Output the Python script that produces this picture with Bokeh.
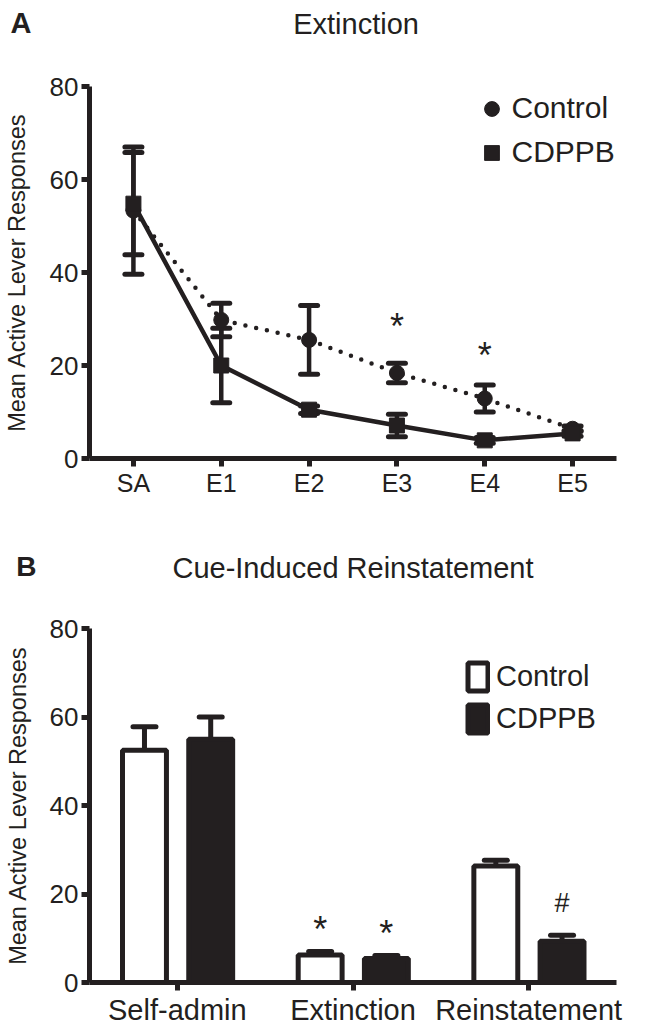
from bokeh.plotting import figure
from bokeh.models import (ColumnDataSource, Range1d, FactorRange, FixedTicker, Whisker,
                          TeeHead, Legend, LegendItem)
from bokeh.layouts import column
from bokeh.transform import dodge
from bokeh.core.properties import value
from bokeh.embed import file_html
from bokeh.resources import INLINE

INK = "#231f20"
FONT = "Liberation Sans"

# ---------------- Panel A data: Extinction ----------------
sessions = ["SA", "E1", "E2", "E3", "E4", "E5"]
control_mean = [53.3, 29.8, 25.5, 18.4, 12.9, 6.4]
control_sem = [13.7, 3.6, 7.4, 2.1, 2.9, 0.6]
cdppb_mean = [54.8, 20.0, 10.5, 7.1, 3.9, 5.4]
cdppb_sem = [11.0, 8.0, 0.8, 2.4, 0.6, 0.6]
sig_a_x = ["E3", "E4"]
sig_a_y = [30.0, 23.6]
sig_a_text = ["*", "*"]

# ---------------- Panel B data: Cue-Induced Reinstatement ----------------
phases = ["Self-admin", "Extinction", "Reinstatement"]
bar_control = [52.5, 6.2, 26.3]
bar_control_sem = [5.3, 0.8, 1.3]
bar_cdppb = [55.0, 5.4, 9.3]
bar_cdppb_sem = [5.0, 0.7, 1.4]
sig_b_phase = ["Extinction", "Extinction", "Reinstatement"]
sig_b_series = ["Control", "CDPPB", "CDPPB"]
sig_b_y = [13.1, 12.1, 17.9]
sig_b_text = ["*", "*", "#"]

y_ticks = [0, 20, 40, 60, 80]
y_label = "Mean Active Lever Responses"
title_a = "Extinction"
title_b = "Cue-Induced Reinstatement"


def style_axes(p, xfont, label_standoff, x_standoff):
    for ax in p.axis:
        ax.axis_line_width = 5
        ax.axis_line_color = INK
        ax.major_tick_line_width = 5
        ax.major_tick_line_color = INK
        ax.major_tick_in = 0
        ax.major_tick_out = 8
        ax.minor_tick_line_color = None
        ax.major_label_text_font = FONT
        ax.major_label_text_color = INK
    p.yaxis.ticker = FixedTicker(ticks=y_ticks, minor_ticks=[])
    p.yaxis.major_label_text_font_size = "26px"
    p.yaxis.major_label_standoff = 3
    p.yaxis.axis_label = y_label
    p.yaxis.axis_label_text_font = FONT
    p.yaxis.axis_label_text_font_size = "23.5px"
    p.yaxis.axis_label_text_font_style = "normal"
    p.yaxis.axis_label_text_color = INK
    p.yaxis.axis_label_standoff = label_standoff
    p.xaxis.major_label_text_font_size = xfont
    p.xaxis.major_label_standoff = x_standoff
    p.xgrid.visible = False
    p.ygrid.visible = False
    p.outline_line_color = None
    p.background_fill_color = "white"
    p.border_fill_color = "white"


def header_text(p, x, y, text, size, dx, dy, bold=False, align="center"):
    # drawn at overlay level so it can sit outside the frame, above the axes
    p.text(x=[x], y=[y], text=[text], x_offset=dx, y_offset=dy,
           text_font=value(FONT), text_font_size=size,
           text_font_style="bold" if bold else "normal",
           text_align=align, text_baseline="alphabetic", text_color=INK, level="overlay")


# ================= Panel A =================
pA = figure(width=652, height=538, x_range=FactorRange(*sessions), y_range=Range1d(0, 80),
            output_backend="svg", toolbar_location=None,
            min_border_left=86, min_border_right=9, min_border_top=86, min_border_bottom=80)

srcA = ColumnDataSource(dict(
    x=sessions,
    c=control_mean,
    c_lo=[m - s for m, s in zip(control_mean, control_sem)],
    c_hi=[m + s for m, s in zip(control_mean, control_sem)],
    d=cdppb_mean,
    d_lo=[m - s for m, s in zip(cdppb_mean, cdppb_sem)],
    d_hi=[m + s for m, s in zip(cdppb_mean, cdppb_sem)],
))

pA.line("x", "c", source=srcA, line_color=INK, line_width=4.5, line_dash="0 11", line_cap="round")
pA.line("x", "d", source=srcA, line_color=INK, line_width=4.5)

for lo, hi in (("c_lo", "c_hi"), ("d_lo", "d_hi")):
    pA.add_layout(Whisker(source=srcA, base="x", upper=hi, lower=lo,
                          line_color=INK, line_width=4.5,
                          upper_head=TeeHead(size=17, line_color=INK, line_width=5, line_cap="round"),
                          lower_head=TeeHead(size=17, line_color=INK, line_width=5, line_cap="round")))

rc = pA.scatter("x", "c", source=srcA, marker="circle", size=15, color=INK)
rd = pA.scatter("x", "d", source=srcA, marker="square", size=15, color=INK)

pA.text(x=sig_a_x, y=sig_a_y, text=sig_a_text, text_font=value(FONT), text_font_size="36px",
        text_align="center", text_baseline="alphabetic", y_offset=7, text_color=INK)

legA = Legend(items=[LegendItem(label="Control", renderers=[rc]),
                     LegendItem(label="CDPPB", renderers=[rd])],
              location=(383.5, 287.5), padding=0, margin=0, spacing=7,
              glyph_width=37, glyph_height=37, label_standoff=2,
              label_text_font=FONT, label_text_font_size="30px", label_text_color=INK,
              label_text_baseline="middle",
              border_line_color=None, background_fill_alpha=0)
pA.add_layout(legA)

style_axes(pA, "25px", 17, 2)
header_text(pA, sessions[2], y_ticks[-1], title_a, "29px", 47, -63)
header_text(pA, sessions[0], y_ticks[-1], "A", "29px", -123, -64, bold=True, align="left")

# ================= Panel B =================
pB = figure(width=652, height=495, x_range=FactorRange(*phases), y_range=Range1d(0, 80),
            output_backend="svg", toolbar_location=None,
            min_border_left=85, min_border_right=36, min_border_top=90, min_border_bottom=51)

srcB = ColumnDataSource(dict(
    x=phases,
    c=bar_control,
    c_hi=[m + s for m, s in zip(bar_control, bar_control_sem)],
    d=bar_cdppb,
    d_hi=[m + s for m, s in zip(bar_cdppb, bar_cdppb_sem)],
))

OFF_C, OFF_D, BAR_W = -0.187, 0.19, 0.25

rbc = pB.vbar(x=dodge("x", OFF_C, range=pB.x_range), top="c", width=BAR_W, source=srcB,
              fill_color="white", line_color=INK, line_width=5)
rbd = pB.vbar(x=dodge("x", OFF_D, range=pB.x_range), top="d", width=BAR_W, source=srcB,
              fill_color=INK, line_color=INK, line_width=5)

for off, lo, hi in ((OFF_C, "c", "c_hi"), (OFF_D, "d", "d_hi")):
    pB.add_layout(Whisker(source=srcB, base=dodge("x", off, range=pB.x_range), upper=hi, lower=lo,
                          line_color=INK, line_width=5,
                          upper_head=TeeHead(size=23, line_color=INK, line_width=5, line_cap="round"),
                          lower_head=None))

sig_size = {"*": "36px", "#": "27px"}
sig_shift = {"*": 5, "#": 0}
for series, off in (("Control", OFF_C), ("CDPPB", OFF_D)):
    rows = [i for i, s in enumerate(sig_b_series) if s == series]
    src = ColumnDataSource(dict(
        x=[sig_b_phase[i] for i in rows],
        y=[sig_b_y[i] for i in rows],
        t=[sig_b_text[i] for i in rows],
        fs=[sig_size[sig_b_text[i]] for i in rows],
        yo=[sig_shift[sig_b_text[i]] for i in rows],
    ))
    pB.text(x=dodge("x", off, range=pB.x_range), y="y", text="t", source=src,
            text_font=value(FONT), text_font_size="fs", y_offset="yo",
            text_align="center", text_baseline="alphabetic", text_color=INK)

legB = Legend(items=[LegendItem(label="Control", renderers=[rbc]),
                     LegendItem(label="CDPPB", renderers=[rbd])],
              location=(376, 246), padding=0, margin=0, spacing=7,
              glyph_width=25, glyph_height=35, label_standoff=6,
              label_text_font=FONT, label_text_font_size="29px", label_text_color=INK,
              label_text_baseline="middle",
              border_line_color=None, background_fill_alpha=0)
pB.add_layout(legB)

style_axes(pB, "29px", 16, 3)
header_text(pB, phases[1], y_ticks[-1], title_b, "29px", 0, -61)
header_text(pB, phases[0], y_ticks[-1], "B", "28px", -161, -62, bold=True, align="left")

layout = column(pA, pB, spacing=0)
open("out.html", "w").write(file_html(layout, INLINE))
